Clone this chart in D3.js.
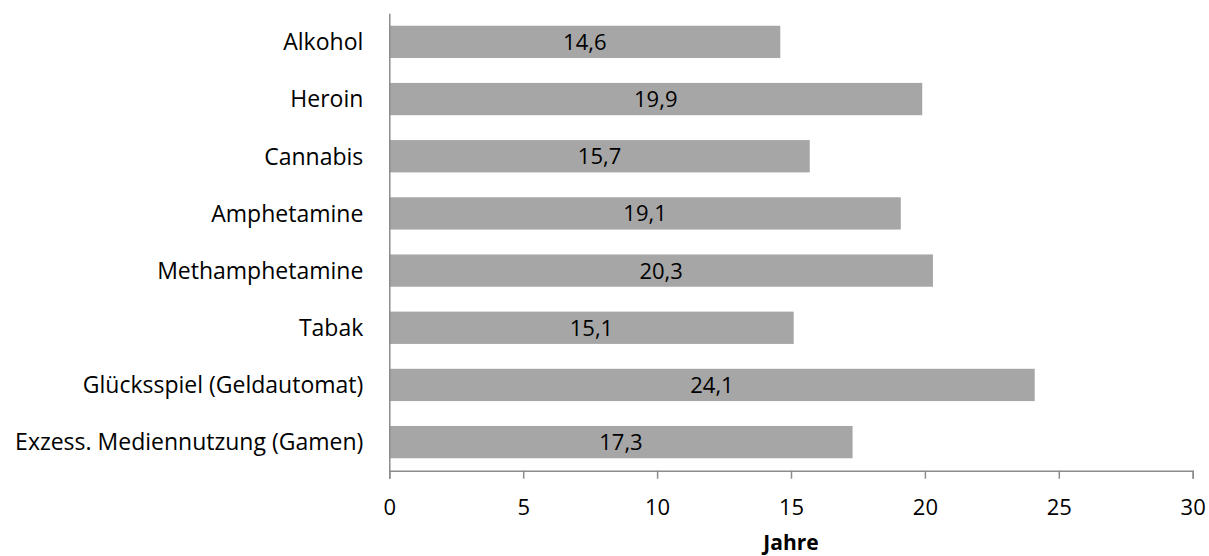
<!DOCTYPE html>
<html>
<head>
<meta charset="utf-8">
<script src="https://cdn.jsdelivr.net/npm/d3@7"></script>
<style>
  html, body { margin: 0; padding: 0; background: #fff; }
  svg { display: block; }
  text { font-family: "Open Sans", Lato, sans-serif; fill: #000; }
</style>
</head>
<body>
<svg id="chart" width="1209" height="556"></svg>
<script>
// Einstiegsalter nach Substanz / Verhalten (Jahre)
const categories = [
  "Alkohol",
  "Heroin",
  "Cannabis",
  "Amphetamine",
  "Methamphetamine",
  "Tabak",
  "Glücksspiel (Geldautomat)",
  "Exzess. Mediennutzung (Gamen)"
];
const values = [14.6, 19.9, 15.7, 19.1, 20.3, 15.1, 24.1, 17.3];
const xTicks = [0, 5, 10, 15, 20, 25, 30];
const xTitle = "Jahre";

const svg = d3.select("#chart");
const margin = { left: 389.3, right: 16.3, top: 13.3, bottom: 85.3 };
const width = 1209, height = 556;
const fontFamily = "'Open Sans', Lato, sans-serif";

const x = d3.scaleLinear()
  .domain([0, 30])
  .range([margin.left, width - margin.right]);

const y = d3.scaleBand()
  .domain(categories)
  .range([margin.top, height - margin.bottom])
  .paddingInner(0.435)
  .paddingOuter(0.2175);

const axisColor = "#8c8c8c";
const labelSize = 23;
const numberSize = 22;

// bars
svg.append("g")
  .selectAll("rect")
  .data(values)
  .join("rect")
  .attr("x", x(0))
  .attr("y", (d, i) => y(categories[i]))
  .attr("width", d => x(d) - x(0))
  .attr("height", y.bandwidth())
  .attr("fill", "#a6a6a6");

// value labels centred in each bar
const fmt = d => d.toFixed(1).replace(".", ",");
svg.append("g")
  .selectAll("text")
  .data(values)
  .join("text")
  .attr("x", d => (x(0) + x(d)) / 2)
  .attr("y", (d, i) => y(categories[i]) + y.bandwidth() / 2)
  .attr("dy", "0.36em")
  .attr("text-anchor", "middle")
  .style("font-size", numberSize + "px")
  .text(fmt);

// x axis
const xAxis = svg.append("g")
  .attr("transform", `translate(0,${height - margin.bottom})`)
  .call(d3.axisBottom(x).tickValues(xTicks).tickSize(8).tickPadding(20.5));
xAxis.select(".domain").attr("stroke", axisColor).attr("stroke-width", 1.5);
xAxis.selectAll(".tick line").attr("stroke", axisColor).attr("stroke-width", 1.5);
xAxis.selectAll(".tick text")
  .style("font-size", numberSize + "px")
  .attr("fill", "#000")
  .style("font-family", fontFamily);

// y axis (line only, no tick marks)
const yAxis = svg.append("g")
  .attr("transform", `translate(${margin.left},0)`)
  .call(d3.axisLeft(y).tickSize(0).tickPadding(26));
yAxis.select(".domain").attr("stroke", axisColor).attr("stroke-width", 1.5);
yAxis.selectAll(".tick text")
  .attr("dy", "0.36em")
  .style("font-size", labelSize + "px")
  .attr("fill", "#000")
  .style("font-family", fontFamily);

// axis title
svg.append("text")
  .attr("x", (x(0) + x(30)) / 2)
  .attr("y", 550)
  .attr("text-anchor", "middle")
  .style("font-size", "21px")
  .style("font-weight", "bold")
  .text(xTitle);
</script>
</body>
</html>
